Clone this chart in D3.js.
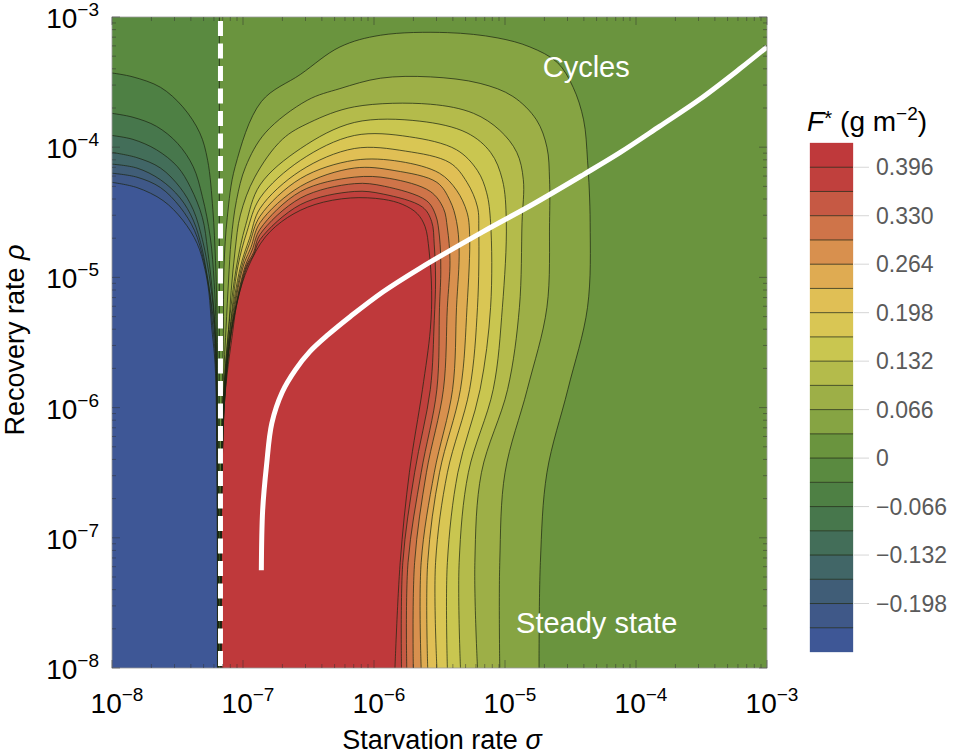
<!DOCTYPE html>
<html>
<head>
<meta charset="utf-8">
<script src="https://cdn.jsdelivr.net/npm/d3@7"></script>
<style>
  body { margin: 0; background: #fff; }
  text { font-family: "Liberation Sans", Arial, Helvetica, sans-serif; }
</style>
</head>
<body>
<div id="chart"></div>
<script>
// All contour points are [log10(sigma), log10(rho)].

// band boundaries of F* and the colour of each band (bottom to top)
const bounds = [-0.264, -0.231, -0.198, -0.165, -0.132, -0.099, -0.066, -0.033, 0,
  0.033, 0.066, 0.099, 0.132, 0.165, 0.198, 0.231, 0.264, 0.297, 0.330, 0.363, 0.396, 0.429];
const bandColors = ["#3e5796", "#3f5888", "#405d77", "#416667", "#436e59", "#47774c", "#4e8044",
  "#5a8a40", "#6a943e", "#86a443", "#9daf47", "#b4bb4b", "#c9c650", "#d9c654", "#e0bf55",
  "#dfab52", "#d8904e", "#cf7449", "#c65944", "#c0403d", "#bf393b"];
const barTicks = [0.396, 0.330, 0.264, 0.198, 0.132, 0.066, 0, -0.066, -0.132, -0.198];
const decades = [-8, -7, -6, -5, -4, -3];

// critical starvation rate (dashed line)
const sigmaCrit = -7.172;

// F* = 0 runs along the discontinuity
const zeroContour = [[-7.18, -3], [-7.18, -8]];

// negative levels, left of the dashed line (from left axis down to the bottom)
const leftLevels = [-0.231, -0.198, -0.165, -0.132, -0.099, -0.066, -0.033];
const leftContours = [
  [[-8,-4.27],[-7.81,-4.31],[-7.61,-4.41],[-7.46,-4.56],[-7.35,-4.74],[-7.29,-4.94],[-7.26,-5.12],[-7.24,-5.37],[-7.213,-5.67],[-7.2,-6.33],[-7.195,-8]],
  [[-8,-4.20],[-7.81,-4.23],[-7.63,-4.31],[-7.48,-4.46],[-7.37,-4.64],[-7.30,-4.87],[-7.26,-5.07],[-7.235,-5.33],[-7.21,-5.63],[-7.198,-6.33],[-7.194,-8]],
  [[-8,-4.13],[-7.81,-4.16],[-7.63,-4.25],[-7.48,-4.39],[-7.38,-4.56],[-7.31,-4.79],[-7.27,-5.02],[-7.23,-5.29],[-7.207,-5.60],[-7.197,-6.33],[-7.193,-8]],
  [[-8,-4.04],[-7.81,-4.08],[-7.63,-4.16],[-7.48,-4.31],[-7.38,-4.48],[-7.31,-4.71],[-7.26,-4.97],[-7.225,-5.25],[-7.205,-5.56],[-7.196,-6.33],[-7.192,-8]],
  [[-8,-3.91],[-7.84,-3.94],[-7.66,-4.02],[-7.50,-4.15],[-7.40,-4.31],[-7.31,-4.54],[-7.27,-4.79],[-7.235,-5.10],[-7.21,-5.48],[-7.195,-6.33],[-7.19,-8]],
  [[-8,-3.74],[-7.84,-3.77],[-7.66,-3.84],[-7.50,-3.97],[-7.38,-4.15],[-7.31,-4.38],[-7.25,-4.69],[-7.22,-5.04],[-7.203,-5.48],[-7.19,-6.33],[-7.188,-8]],
  [[-8,-3.43],[-7.84,-3.46],[-7.63,-3.54],[-7.46,-3.69],[-7.33,-3.89],[-7.27,-4.10],[-7.23,-4.48],[-7.21,-4.87],[-7.20,-5.20],[-7.193,-5.7],[-7.188,-6.5],[-7.187,-8]]
];

// positive levels, right of the dashed line (from the bottom, round, back to the bottom)
const rightLevels = [0.033, 0.066, 0.099, 0.132, 0.165, 0.198, 0.231, 0.264, 0.297, 0.330, 0.363, 0.396];
const rightContours = [
  [[-7.17,-8],[-7.17,-6.71],[-7.16,-5.94],[-7.15,-5.43],[-7.145,-4.92],[-7.12,-4.54],[-7.06,-4.15],[-6.86,-3.65],[-6.56,-3.44],[-6.26,-3.23],[-5.95,-3.14],[-5.44,-3.12],[-5.06,-3.16],[-4.81,-3.23],[-4.60,-3.35],[-4.48,-3.54],[-4.40,-3.79],[-4.37,-4.10],[-4.35,-4.58],[-4.37,-5.23],[-4.52,-5.86],[-4.68,-6.50],[-4.73,-7.19],[-4.74,-8]],
  [[-7.17,-8],[-7.165,-6.71],[-7.155,-5.94],[-7.13,-5.40],[-7.11,-5.02],[-7.09,-4.71],[-7.05,-4.41],[-6.98,-4.15],[-6.83,-3.89],[-6.51,-3.64],[-6.26,-3.55],[-5.95,-3.47],[-5.57,-3.46],[-5.19,-3.51],[-4.94,-3.61],[-4.76,-3.79],[-4.68,-4.00],[-4.66,-4.25],[-4.66,-4.58],[-4.68,-5.23],[-4.83,-5.86],[-5.00,-6.50],[-5.04,-7.19],[-5.04,-8]],
  [[-7.17,-8],[-7.165,-6.71],[-7.15,-5.94],[-7.11,-5.40],[-7.09,-5.10],[-7.06,-4.79],[-7.02,-4.52],[-6.91,-4.23],[-6.70,-3.94],[-6.49,-3.81],[-6.15,-3.69],[-5.57,-3.67],[-5.24,-3.74],[-5.04,-3.87],[-4.91,-4.04],[-4.86,-4.25],[-4.87,-4.58],[-4.89,-5.23],[-4.98,-5.86],[-5.18,-6.50],[-5.23,-7.19],[-5.21,-8]],
  [[-7.17,-8],[-7.165,-6.71],[-7.15,-5.94],[-7.11,-5.40],[-7.05,-4.92],[-6.98,-4.60],[-6.87,-4.29],[-6.56,-4.01],[-6.15,-3.81],[-5.65,-3.80],[-5.29,-3.89],[-5.11,-4.04],[-5.02,-4.25],[-4.99,-4.58],[-5.02,-5.23],[-5.09,-5.86],[-5.28,-6.50],[-5.35,-7.19],[-5.34,-8]],
  [[-7.17,-8],[-7.165,-6.71],[-7.148,-5.94],[-7.10,-5.40],[-7.04,-4.92],[-6.97,-4.65],[-6.87,-4.39],[-6.56,-4.10],[-6.15,-3.91],[-5.73,-3.92],[-5.37,-4.02],[-5.21,-4.18],[-5.14,-4.35],[-5.11,-4.58],[-5.11,-5.23],[-5.19,-5.86],[-5.36,-6.50],[-5.44,-7.19],[-5.44,-8]],
  [[-7.17,-8],[-7.165,-6.71],[-7.147,-5.94],[-7.10,-5.40],[-7.02,-4.92],[-6.95,-4.70],[-6.87,-4.47],[-6.56,-4.18],[-6.15,-4.01],[-5.76,-4.03],[-5.42,-4.12],[-5.29,-4.27],[-5.21,-4.46],[-5.20,-4.64],[-5.21,-5.23],[-5.27,-5.86],[-5.44,-6.50],[-5.53,-7.19],[-5.52,-8]],
  [[-7.17,-8],[-7.165,-6.71],[-7.145,-5.94],[-7.095,-5.40],[-7.01,-4.92],[-6.95,-4.74],[-6.87,-4.53],[-6.56,-4.24],[-6.15,-4.10],[-5.80,-4.11],[-5.50,-4.20],[-5.37,-4.33],[-5.29,-4.50],[-5.27,-4.67],[-5.29,-5.23],[-5.34,-5.86],[-5.50,-6.50],[-5.59,-7.19],[-5.59,-8]],
  [[-7.17,-8],[-7.164,-6.71],[-7.143,-5.94],[-7.09,-5.40],[-7.00,-4.92],[-6.94,-4.77],[-6.87,-4.58],[-6.56,-4.30],[-6.15,-4.16],[-5.84,-4.18],[-5.52,-4.27],[-5.42,-4.41],[-5.37,-4.57],[-5.35,-4.79],[-5.37,-5.23],[-5.40,-5.86],[-5.54,-6.50],[-5.64,-7.19],[-5.64,-8]],
  [[-7.17,-8],[-7.164,-6.71],[-7.142,-5.94],[-7.088,-5.40],[-6.985,-4.92],[-6.93,-4.79],[-6.87,-4.63],[-6.56,-4.34],[-6.15,-4.23],[-5.88,-4.24],[-5.57,-4.34],[-5.47,-4.47],[-5.44,-4.62],[-5.42,-4.87],[-5.44,-5.23],[-5.47,-5.86],[-5.60,-6.50],[-5.69,-7.19],[-5.70,-8]],
  [[-7.17,-8],[-7.163,-6.71],[-7.14,-5.94],[-7.086,-5.40],[-6.977,-4.92],[-6.92,-4.81],[-6.87,-4.67],[-6.56,-4.39],[-6.15,-4.28],[-5.92,-4.30],[-5.60,-4.41],[-5.53,-4.52],[-5.50,-4.69],[-5.49,-4.94],[-5.50,-5.23],[-5.52,-5.86],[-5.64,-6.50],[-5.74,-7.19],[-5.75,-8]],
  [[-7.17,-8],[-7.163,-6.71],[-7.14,-5.94],[-7.085,-5.40],[-6.97,-4.92],[-6.92,-4.83],[-6.87,-4.71],[-6.56,-4.44],[-6.15,-4.34],[-5.93,-4.36],[-5.63,-4.46],[-5.56,-4.57],[-5.54,-4.75],[-5.53,-5.02],[-5.54,-5.33],[-5.57,-5.86],[-5.69,-6.50],[-5.78,-7.19],[-5.79,-8]],
  [[-7.17,-8],[-7.162,-6.71],[-7.14,-5.94],[-7.08,-5.43],[-7.04,-5.17],[-6.96,-4.92],[-6.83,-4.69],[-6.66,-4.54],[-6.45,-4.44],[-6.18,-4.39],[-5.93,-4.40],[-5.78,-4.44],[-5.67,-4.51],[-5.61,-4.61],[-5.58,-4.79],[-5.56,-5.10],[-5.57,-5.40],[-5.63,-5.86],[-5.73,-6.50],[-5.80,-7.19],[-5.84,-8]]
];

// boundary between steady state and cycles (white curve)
const boundaryCurve = [[-6.86,-7.25],[-6.85,-6.79],[-6.82,-6.44],[-6.78,-6.12],[-6.70,-5.88],[-6.60,-5.71],
  [-6.49,-5.57],[-6.35,-5.44],[-6.18,-5.30],[-5.93,-5.11],[-5.65,-4.93],[-5.17,-4.65],[-4.79,-4.44],
  [-4.40,-4.21],[-4.12,-4.04],[-3.82,-3.84],[-3.51,-3.63],[-3.21,-3.40],[-3.0,-3.23]];

const width = 964, height = 756;
const plot = {left: 112, right: 767, top: 17, bottom: 668};

const svg = d3.select("#chart").append("svg")
    .attr("width", width)
    .attr("height", height);

const x = d3.scaleLog().domain([1e-8, 1e-3]).range([plot.left, plot.right]);
const y = d3.scaleLog().domain([1e-8, 1e-3]).range([plot.bottom, plot.top]);
const px = p => [x(10 ** p[0]), y(10 ** p[1])];
const curve = d3.line().curve(d3.curveCatmullRom.alpha(0.5));
const bandOf = level => bounds.findIndex(b => Math.abs(b - level) < 1e-6);

svg.append("clipPath").attr("id", "plotclip")
  .append("rect")
    .attr("x", plot.left).attr("y", plot.top)
    .attr("width", plot.right - plot.left).attr("height", plot.bottom - plot.top);

const field = svg.append("g").attr("clip-path", "url(#plotclip)");

// lowest band underneath everything
field.append("rect")
    .attr("x", plot.left).attr("y", plot.top)
    .attr("width", plot.right - plot.left).attr("height", plot.bottom - plot.top)
    .attr("fill", bandColors[0]);

// regions above each negative level
leftContours.forEach((c, i) => {
  const d = curve(c.map(px)) +
    `L${plot.right},${plot.bottom}L${plot.right},${plot.top}L${plot.left},${plot.top}Z`;
  field.append("path").attr("d", d).attr("fill", bandColors[bandOf(leftLevels[i])]);
});

// region above zero
const zx = x(10 ** zeroContour[0][0]);
field.append("rect")
    .attr("x", zx).attr("y", plot.top)
    .attr("width", plot.right - zx).attr("height", plot.bottom - plot.top)
    .attr("fill", bandColors[bandOf(0)]);

// regions above each positive level
rightContours.forEach((c, i) => {
  field.append("path")
      .attr("d", curve(c.map(px)) + "Z")
      .attr("fill", bandColors[bandOf(rightLevels[i])]);
});

// contour lines
const allLines = leftContours.concat([zeroContour], rightContours);
field.selectAll(".contour")
  .data(allLines)
  .enter().append("path")
    .attr("class", "contour")
    .attr("d", c => curve(c.map(px)))
    .attr("fill", "none")
    .attr("stroke", "#1c2612")
    .attr("stroke-opacity", 0.8)
    .attr("stroke-width", 0.9);

// critical sigma, dashed
field.append("line")
    .attr("x1", x(10 ** sigmaCrit)).attr("x2", x(10 ** sigmaCrit))
    .attr("y1", plot.top).attr("y2", plot.bottom)
    .attr("stroke", "#fff")
    .attr("stroke-width", 5)
    .attr("stroke-dasharray", "15,7.5")
    .attr("stroke-dashoffset", -4);

// steady state / cycles boundary
field.append("path")
    .attr("d", curve(boundaryCurve.map(px)))
    .attr("fill", "none")
    .attr("stroke", "#fff")
    .attr("stroke-width", 5);

// region labels
field.append("text")
    .attr("x", x(10 ** -4.38)).attr("y", y(10 ** -3.46))
    .attr("text-anchor", "middle")
    .attr("font-size", 29)
    .attr("fill", "#fff")
    .text("Cycles");

field.append("text")
    .attr("x", x(10 ** -4.30)).attr("y", y(10 ** -7.73))
    .attr("text-anchor", "middle")
    .attr("font-size", 29)
    .attr("fill", "#fff")
    .text("Steady state");

// frame and log ticks on all sides
svg.append("rect")
    .attr("x", plot.left).attr("y", plot.top)
    .attr("width", plot.right - plot.left).attr("height", plot.bottom - plot.top)
    .attr("fill", "none")
    .attr("stroke", "#9a9a9a")
    .attr("stroke-width", 0.8);

const tickVals = [];
decades.slice(0, -1).forEach(e => {
  for (let m = 1; m <= 9; m++) tickVals.push({v: m * 10 ** e, major: m === 1});
});
tickVals.push({v: 1e-3, major: true});

const ticks = svg.append("g")
    .attr("stroke", "#333")
    .attr("stroke-opacity", 0.7)
    .attr("stroke-width", 0.7);

tickVals.forEach(t => {
  const len = t.major ? 8 : 4;
  const tx = x(t.v), ty = y(t.v);
  ticks.append("line").attr("x1", tx).attr("x2", tx).attr("y1", plot.bottom).attr("y2", plot.bottom - len);
  ticks.append("line").attr("x1", tx).attr("x2", tx).attr("y1", plot.top).attr("y2", plot.top + len);
  ticks.append("line").attr("y1", ty).attr("y2", ty).attr("x1", plot.left).attr("x2", plot.left + len);
  ticks.append("line").attr("y1", ty).attr("y2", ty).attr("x1", plot.right).attr("x2", plot.right - len);
});

// decade labels
const powerLabel = (sel, e) => {
  sel.append("tspan").text("10");
  sel.append("tspan").attr("font-size", 19).attr("dy", -12).text("\u2212" + Math.abs(e));
};

decades.forEach(e => {
  svg.append("text")
      .attr("x", x(10 ** e) + 5).attr("y", 713)
      .attr("text-anchor", "middle")
      .attr("font-size", 28)
      .call(powerLabel, e);

  svg.append("text")
      .attr("x", 99).attr("y", y(10 ** e) + 11)
      .attr("text-anchor", "end")
      .attr("font-size", 28)
      .call(powerLabel, e);
});

// axis titles
const xTitle = svg.append("text")
    .attr("x", 442).attr("y", 749)
    .attr("text-anchor", "middle")
    .attr("font-size", 27);
xTitle.append("tspan").text("Starvation rate ");
xTitle.append("tspan").attr("font-style", "italic").text("\u03c3");

const yTitle = svg.append("text")
    .attr("transform", "translate(24,340) rotate(-90)")
    .attr("text-anchor", "middle")
    .attr("font-size", 27);
yTitle.append("tspan").text("Recovery rate ");
yTitle.append("tspan").attr("font-style", "italic").text("\u03c1");

// colour bar
const bar = {left: 810, right: 853, top: 143, bottom: 652};
const cb = d3.scaleLinear()
    .domain([bounds[0], bounds[bounds.length - 1]])
    .range([bar.bottom, bar.top]);

svg.append("g").selectAll("rect")
  .data(bandColors)
  .enter().append("rect")
    .attr("x", bar.left)
    .attr("width", bar.right - bar.left)
    .attr("y", (c, i) => cb(bounds[i + 1]))
    .attr("height", (c, i) => cb(bounds[i]) - cb(bounds[i + 1]))
    .attr("fill", c => c)
    .attr("stroke", c => c)
    .attr("stroke-width", 0.3);

svg.append("g").selectAll("line")
  .data(bounds.slice(1, -1))
  .enter().append("line")
    .attr("x1", bar.left).attr("x2", bar.right)
    .attr("y1", d => cb(d)).attr("y2", d => cb(d))
    .attr("stroke", "#1c2612")
    .attr("stroke-opacity", 0.8)
    .attr("stroke-width", 0.9);

const fmt = d => d === 0 ? "0" : d3.format(".3f")(d).replace("-", "\u2013");

svg.append("g").selectAll("line")
  .data(barTicks)
  .enter().append("line")
    .attr("x1", bar.right + 1).attr("x2", bar.right + 16)
    .attr("y1", d => cb(d)).attr("y2", d => cb(d))
    .attr("stroke", "#ccc")
    .attr("stroke-width", 0.8);

svg.append("g").selectAll("text")
  .data(barTicks)
  .enter().append("text")
    .attr("x", 876)
    .attr("y", d => cb(d) + 8)
    .attr("font-size", 23)
    .attr("fill", "#5a5a5a")
    .text(fmt);

const cbTitle = svg.append("text")
    .attr("x", 807).attr("y", 131)
    .attr("font-size", 28);
cbTitle.append("tspan").attr("font-style", "italic").text("F");
cbTitle.append("tspan").attr("font-size", 21).attr("dy", -6).text("*");
cbTitle.append("tspan").attr("dy", 6).text(" (g m");
cbTitle.append("tspan").attr("font-size", 19).attr("dy", -11).text("\u22122");
cbTitle.append("tspan").attr("dy", 11).text(")");
</script>
</body>
</html>
